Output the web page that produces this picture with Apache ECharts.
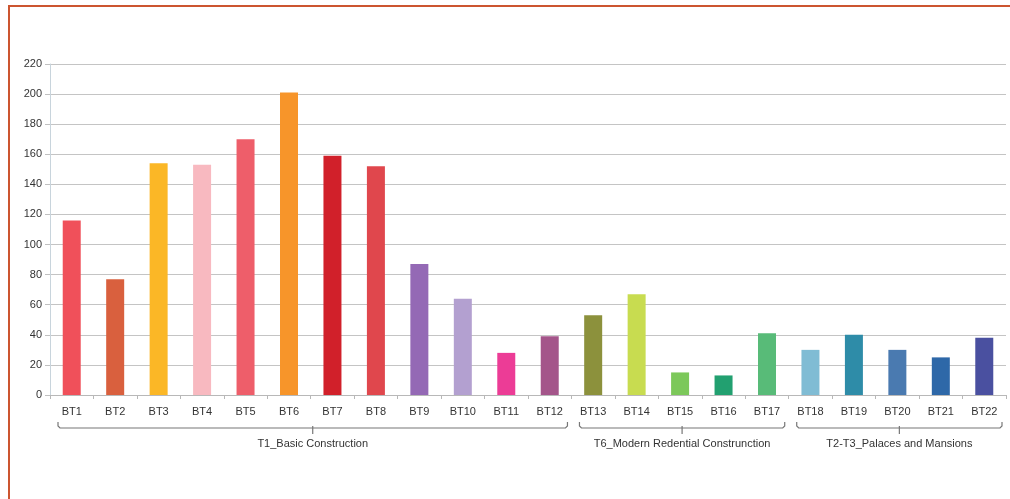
<!DOCTYPE html>
<html>
<head>
<meta charset="utf-8">
<script src="https://cdn.jsdelivr.net/npm/echarts@6/dist/echarts.min.js"></script>
<style>
  html, body { margin: 0; padding: 0; background: #fff; }
  #frame { position: absolute; left: 8px; top: 5px; width: 1002px; height: 494px;
           border-left: 2px solid #cc5530; border-top: 2px solid #cc5530; box-sizing: border-box; }
  #chart { position: absolute; left: 0; top: 0; width: 1010px; height: 499px; }
</style>
</head>
<body>
<div id="frame"></div>
<div id="chart"></div>
<script>
// Building types and their counts
const categories = ['BT1','BT2','BT3','BT4','BT5','BT6','BT7','BT8','BT9','BT10','BT11',
  'BT12','BT13','BT14','BT15','BT16','BT17','BT18','BT19','BT20','BT21','BT22'];
const values = [116, 77, 154, 153, 170, 201, 159, 152, 87, 64, 28,
  39, 53, 67, 15, 13, 41, 30, 40, 30, 25, 38];
const barColors = ['#f0505a','#d9603e','#fbb726','#f8b9c0','#ee5e6a','#f7952a','#d1202a',
  '#e0474d','#9469b5','#b3a0d0','#ec3c96','#a4558a','#8c913c','#c8dc50','#7cc85a',
  '#22a070','#58bb78','#80bcd4','#2e8ca8','#4a7ab0','#2e68a8','#4a50a0'];
const yTicks = { min: 0, max: 220, interval: 20 };

// Typology groups spanning consecutive building types
const groupNames = ['T1_Basic Construction', 'T6_Modern Redential Construnction', 'T2-T3_Palaces and Mansions'];
const groupSizes = [12, 5, 5];

const chart = echarts.init(document.getElementById('chart'), null, { renderer: 'canvas' });
const font = 'Liberation Sans, Arial, sans-serif';

chart.setOption({
  animation: false,
  grid: { left: 50, right: 4, top: 64, bottom: 104 },
  xAxis: {
    type: 'category',
    data: categories,
    axisLine: { lineStyle: { color: '#b8b8b8', width: 1 } },
    axisTick: { show: true, length: 4, lineStyle: { color: '#b8b8b8' } },
    axisLabel: { color: '#333', fontFamily: font, fontSize: 11, margin: 11, interval: 0 }
  },
  yAxis: {
    type: 'value',
    min: yTicks.min, max: yTicks.max, interval: yTicks.interval,
    axisLine: { show: true, lineStyle: { color: '#c8d4dc' } },
    axisTick: { show: true, length: 5, lineStyle: { color: '#c0c0c0' } },
    axisLabel: { color: '#333', fontFamily: font, fontSize: 11, margin: 8 },
    splitLine: { lineStyle: { color: '#c4c4c4', width: 1 } }
  },
  series: [{
    type: 'bar',
    data: values.map((v, i) => ({ value: v, itemStyle: { color: barColors[i] } })),
    barWidth: 18
  }]
});

// Group brackets beneath the category labels, placed from the axis scale
function drawGroups() {
  const step = chart.convertToPixel({ xAxisIndex: 0 }, 1) - chart.convertToPixel({ xAxisIndex: 0 }, 0);
  const lineY = 428, endY = 422, tickY = 434, textY = 444;
  const elements = [];
  let start = 0;
  groupSizes.forEach((size, g) => {
    const firstC = chart.convertToPixel({ xAxisIndex: 0 }, start);
    const lastC = chart.convertToPixel({ xAxisIndex: 0 }, start + size - 1);
    const x1 = firstC - step / 2 + 8;
    const x2 = lastC + step / 2 - 4;
    const mid = (x1 + x2) / 2;
    elements.push({
      type: 'polyline',
      shape: { points: [[x1, endY], [x1, lineY - 2], [x1 + 2, lineY], [x2 - 2, lineY], [x2, lineY - 2], [x2, endY]] },
      style: { stroke: '#777', lineWidth: 1.2, fill: null }
    });
    elements.push({
      type: 'line',
      shape: { x1: mid, y1: lineY - 2, x2: mid, y2: tickY },
      style: { stroke: '#777', lineWidth: 1.2 }
    });
    elements.push({
      type: 'text',
      x: mid, y: textY,
      style: { text: groupNames[g], fill: '#333', font: '11px ' + font, align: 'center', verticalAlign: 'middle' }
    });
    start += size;
  });
  chart.setOption({ graphic: { elements: elements } });
}
drawGroups();
</script>
</body>
</html>
